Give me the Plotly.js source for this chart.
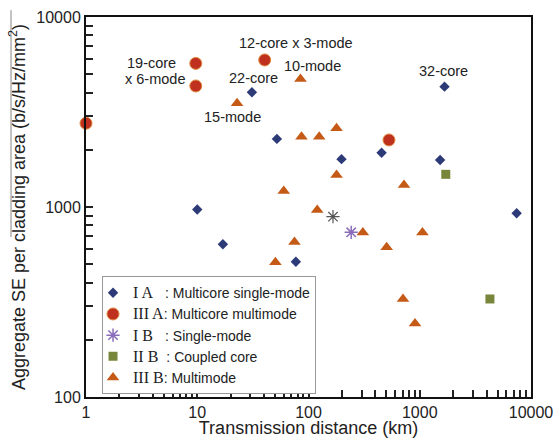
<!DOCTYPE html>
<html>
<head>
<meta charset="utf-8">
<script src="https://cdn.plot.ly/plotly-3.0.1.min.js"></script>
<style>html,body{margin:0;padding:0;background:#fff;}#chart{width:557px;height:438px;}</style>
</head>
<body>
<div id="chart"></div>
<script>
// Type I A : multicore single-mode (diamonds)
const xIA = [10, 17, 31, 52, 77, 198, 454, 1524, 1670, 7430];
const yIA = [970, 637, 4015, 2282, 515, 1786, 1931, 1767, 4299, 927];
// Type III A : multicore multimode (circles)
const xIIIA = [1, 9.7, 9.7, 40.4, 529];
const yIIIA = [2760, 5700, 4335, 5943, 2254];
// Type I B : single-mode (asterisks)
const xIB = [242];
const yIB = [736];
const xIBgray = [166];
const yIBgray = [889];
// Type II B : coupled core (squares)
const xIIB = [1714, 4274];
const yIIB = [1486, 328];
// Type III B : multimode (triangles)
const xIIIB = [22.8, 84.7, 86.5, 124.8, 178.7, 178.7, 59.9, 119.8, 74.8, 50.4, 308, 1057, 504, 707, 907, 722];
const yIIIB = [3513, 4720, 2345, 2345, 2596, 1473, 1213, 964, 655, 512, 734, 734, 614, 328, 244, 1306];

// tick labels
const xDecades = [1, 10, 100, 1000, 10000];
const xDecadeLabels = ['1', '10', '100', '1000', '10000'];
const yDecades = [100, 1000, 10000];
const yDecadeLabels = ['100', '1000', '10000'];
const mantissas = [1, 2, 3, 4, 5, 6, 7, 8, 9];

const legendNames = [
  '<span style="font-family:Liberation Serif;font-size:16px">I A&nbsp;&nbsp;&nbsp;</span>: Multicore single-mode',
  '<span style="font-family:Liberation Serif;font-size:16px">III A</span>: Multicore multimode',
  '<span style="font-family:Liberation Serif;font-size:16px">I B&nbsp;&nbsp;&nbsp;</span>: Single-mode',
  '<span style="font-family:Liberation Serif;font-size:16px">II B&nbsp;&nbsp;</span>: Coupled core',
  '<span style="font-family:Liberation Serif;font-size:16px">III B</span>: Multimode'
];

const labelTexts = ['19-core', 'x 6-mode', '12-core x 3-mode', '10-mode', '22-core', '15-mode', '32-core'];

// tick positions: decades labelled, 2..9 unlabelled
function buildTicks(decades, labels) {
  const vals = [], texts = [];
  decades.forEach((d, i) => {
    vals.push(d); texts.push(labels[i]);
    if (i < decades.length - 1) {
      mantissas.slice(1).forEach(m => { vals.push(d * m); texts.push(''); });
    }
  });
  return {vals, texts};
}
const xt = buildTicks(xDecades, xDecadeLabels);
const yt = buildTicks(yDecades, yDecadeLabels);

const traces = [
  {x: xIA, y: yIA, name: legendNames[0], type: 'scatter', mode: 'markers',
   marker: {symbol: 'diamond', size: 8, color: '#2D3A78'}},
  {x: xIIIA, y: yIIIA, name: legendNames[1], type: 'scatter', mode: 'markers', cliponaxis: false,
   marker: {symbol: 'circle', size: 12, color: '#C0301F', line: {color: '#DE8A3E', width: 1}}},
  {x: xIB, y: yIB, name: legendNames[2], type: 'scatter', mode: 'markers',
   marker: {symbol: 'asterisk-open', size: 11, color: '#8A6DBA', line: {color: '#8A6DBA', width: 1.5}}},
  {x: xIIB, y: yIIB, name: legendNames[3], type: 'scatter', mode: 'markers',
   marker: {symbol: 'square', size: 9, color: '#77863A'}},
  {x: xIIIB, y: yIIIB, name: legendNames[4], type: 'scatter', mode: 'markers',
   marker: {symbol: 'triangle-up', size: 11, color: '#C55A17'}},
  {x: xIBgray, y: yIBgray, name: 'I B', type: 'scatter', mode: 'markers', showlegend: false,
   marker: {symbol: 'asterisk-open', size: 11, color: '#555', line: {color: '#555', width: 1.2}}}
];

const annFont = {family: 'Liberation Sans, Arial, sans-serif', size: 14.5, color: '#222'};
function ann(text, x, y, xanchor) {
  return {text: text, xref: 'paper', yref: 'paper', x: x, y: y, xanchor: xanchor || 'center', yanchor: 'middle',
          showarrow: false, font: annFont};
}

const axisCommon = {
  type: 'log', tickmode: 'array', tickangle: 0,
  showline: true, linewidth: 2, linecolor: '#111', mirror: true,
  ticks: 'inside', ticklen: 7, tickwidth: 2, tickcolor: '#222',
  showgrid: false, zeroline: false,
  tickfont: {size: 16, color: '#222'}
};

const layout = {
  width: 557, height: 438,
  margin: {l: 86, r: 26, t: 17, b: 41},
  paper_bgcolor: '#fff', plot_bgcolor: '#fff',
  font: {family: 'Liberation Sans, Arial, sans-serif', color: '#222'},
  showlegend: true,
  legend: {x: 0.036, y: 0.318, xanchor: 'left', yanchor: 'top', bgcolor: '#fff',
           bordercolor: '#999', borderwidth: 1, font: {size: 14, color: '#222'},
           traceorder: 'normal', itemwidth: 30, tracegroupgap: 0, indentation: -10},
  xaxis: Object.assign({}, axisCommon, {
          range: [0, 4], tickvals: xt.vals, ticktext: xt.texts,
          title: {text: 'Transmission distance (km)', font: {size: 18, color: '#222'}, standoff: 11}}),
  yaxis: Object.assign({}, axisCommon, {
          range: [2, 4], tickvals: yt.vals, ticktext: yt.texts,
          title: {text: 'Aggregate SE per cladding area (b/s/Hz/mm<sup>2</sup>)', font: {size: 18, color: '#222'}, standoff: 6}}),
  annotations: [
    ann(labelTexts[0], 0.087, 0.879, 'left'),
    ann(labelTexts[1], 0.083, 0.837, 'left'),
    ann(labelTexts[2], 0.4708, 0.9316),
    ann(labelTexts[3], 0.509, 0.8711),
    ann(labelTexts[4], 0.3775, 0.8395),
    ann(labelTexts[5], 0.3303, 0.7368),
    ann(labelTexts[6], 0.8034, 0.8579)
  ],
  shapes: [
    {type: 'line', xref: 'paper', yref: 'paper', x0: -0.1685, x1: -0.1685, y0: 0.421, y1: 1.018,
     line: {color: '#888', width: 1}}
  ]
};

Plotly.newPlot('chart', traces, layout, {staticPlot: true, displayModeBar: false});
</script>
</body>
</html>
